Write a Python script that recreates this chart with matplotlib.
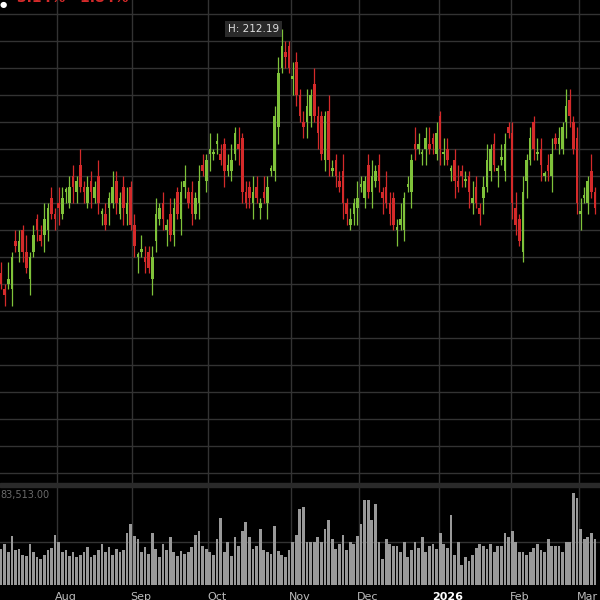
import matplotlib
matplotlib.use("Agg")
import matplotlib.pyplot as plt
import matplotlib.transforms as mtransforms

closes = [165,163,166,170,172, 173,171,168,170,174, 175,173,177,179,178, 177,179,181,182,183,
          183,184,183,182,183, 182,183,180,178,176, 181,183,180,181,179, 180,176,172,170,171,
          169,168,170,178,179, 177,176,174,179,178, 182,184,180,178,181, 184,186,188,190,189,
          191,188,186,187,188, 193,190,182,180,181, 182,181,180,181,183, 186,196,204,209,207,
          205,203,200,196,194, 198,200,196,193,189, 196,188,186,185,183, 180,178,177,180,181,
          183,184,182,185,186, 184,181,180,178,176, 175,177,181,183,188, 190,191,189,192,190,
          191,193,190,189,188, 186,184,183,185,184, 182,181,180,178,183, 188,190,187,186,188,
          191,193,180,176,173, 182,188,192,190,189, 187,185,186,189,191, 192,194,198,196,190,
          180,178,181,184,182,179]
open0 = 166
# open gap vs previous close, digit d -> d-3
open_gap = ("4251625314624153624152631425136241526314251624153624153261425163241536241526314251632415"
            "3624152631425163241536241526314251624153624152631425163241536241526314"
            "4251625314624153624152631425136241526314")
wick_up = ("2131221312123121321221312213121321231213212312132123121321312212313121321321231213212313211321231213212312132123121321231213212312132123121321231312132123121321232131"
           "21312213")
wick_dn = ("1213122131213212312132121312213121321231213212312132121312312131213212312131231213212321312312132123121312312131213212312132123121321231213121321231213123121321231211"
           "12131221")
volumes = [33,38,30,45,32,33,28,27,38,30,26,24,28,32,34,46,
           40,30,32,27,30,26,28,30,35,26,28,32,38,30,35,28,33,30,32,48,56,45,
           42,30,35,29,48,33,26,38,32,44,30,27,31,29,30,35,46,50,36,33,
           30,28,42,62,30,40,27,44,36,50,58,44,33,36,52,32,30,29,54,
           31,28,26,32,40,46,70,72,40,40,40,44,40,52,60,42,33,38,46,32,
           40,38,45,56,78,78,60,75,40,24,42,38,36,36,30,40,26,32,40,34,
           44,30,36,38,33,48,38,34,65,28,40,18,26,22,28,34,38,36,33,38,
           30,36,36,48,44,50,40,30,30,28,30,34,38,
           32,30,42,36,36,36,30,40,40,85,80,52,42,44,48,42]
month_labels = ["Aug", "Sep", "Oct", "Nov", "Dec", "2026", "Feb", "Mar"]
month_pos = [15.6, 36.4, 57.5, 80.6, 99.4, 121.7, 141.7, 160.6]
high_label = "H: 212.19"
vol_label = "83,513.00"

n = min(len(closes), len(volumes))
closes = closes[:n]
volumes = volumes[:n]
prev = [open0] + closes[:-1]
opens = [p + int(open_gap[i]) - 3 for i, p in enumerate(prev)]
highs = [max(o, c) + int(wick_up[i]) for i, (o, c) in enumerate(zip(opens, closes))]
lows = [min(o, c) - int(wick_dn[i]) for i, (o, c) in enumerate(zip(opens, closes))]
highs[78] = 212.19
vol_max = 83513

bg = "black"
grid_c = "#333333"
up_c = "#7fc23a"
dn_c = "#d42a2a"

fig = plt.figure(figsize=(6, 6), dpi=100, facecolor=bg)
ax = fig.add_axes([0, 0.195, 1, 0.805], facecolor=bg)
axv = fig.add_axes([0, 0.025, 1, 0.163], facecolor=bg, sharex=ax)

for i in range(n):
    c = up_c if closes[i] >= opens[i] else dn_c
    ax.vlines(i, lows[i], highs[i], color=c, lw=0.9)
    lo, hi = min(opens[i], closes[i]), max(opens[i], closes[i])
    ax.bar(i, max(hi - lo, 0.5), bottom=lo, width=0.72, color=c, linewidth=0)

ax.set_xlim(-0.3, 166.4)
ax.set_ylim(128.2, 217.55)
for v in range(130, 220, 5):
    ax.axhline(v, color=grid_c, lw=1, zorder=0)
for p in month_pos:
    ax.axvline(p, color=grid_c, lw=1, zorder=0)
    axv.axvline(p, color=grid_c, lw=1, zorder=0)
for s in ax.spines.values():
    s.set_visible(False)
ax.set_xticks([]); ax.set_yticks([])

ax.text(77.2, 212.2, high_label, ha="right", va="center", color="#e0e0e0", fontsize=7.5,
        bbox=dict(boxstyle="square,pad=0.25", fc="#2a2a2a", ec="none"))
fig.text(0.028, 0.992, "3.14%   1.84%", color=dn_c, fontsize=10, fontweight="bold", va="bottom")
fig.text(0.0, 0.992, "\u25cf", color="white", fontsize=6, va="center")

axv.bar(range(n), [v * 1000 for v in volumes], width=0.75, color="#999999", linewidth=0)
axv.set_ylim(0, vol_max * 1.08)
axv.axhline(40000, color=grid_c, lw=1, zorder=0)
for s in axv.spines.values():
    s.set_visible(False)
axv.set_yticks([])
axv.tick_params(axis="x", bottom=False, labelbottom=False)
axv.text(0.0, 0.97, vol_label, transform=axv.transAxes, color="#6a6a6a", fontsize=7, va="top")

fig.patches.append(matplotlib.patches.Rectangle((0, 0.188), 1, 0.007, transform=fig.transFigure,
                                                color="#2a2a2a", zorder=0))
trans = mtransforms.blended_transform_factory(axv.transData, fig.transFigure)
for lab, p in zip(month_labels, month_pos):
    bold = lab == "2026"
    axv.text(p + 2.4, -0.004, lab, transform=trans, ha="center", va="bottom",
             color="white" if bold else "#bbbbbb", fontsize=8,
             fontweight="bold" if bold else "normal", clip_on=False)

fig.savefig("out.png", dpi=100, facecolor=bg)
